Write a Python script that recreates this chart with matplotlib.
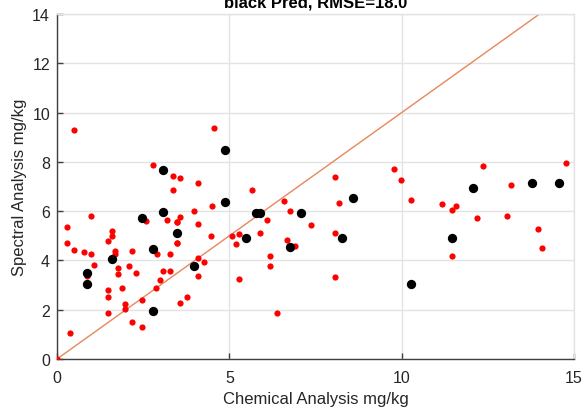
import matplotlib
matplotlib.use('Agg')
import matplotlib.pyplot as plt
import numpy as np

plt.rcParams['font.family'] = ['Liberation Sans', 'DejaVu Sans']

# Chemical (x) vs spectral (y) values
red_x = [0.00, 0.49, 2.78, 3.37, 3.58, 3.37, 2.59, 3.18, 3.58, 3.48, 0.99, 0.29,
         1.59, 1.59, 0.28, 0.49, 0.78, 0.99, 1.49, 1.68, 1.68, 1.08, 0.88, 1.78,
         1.78, 2.18, 2.89, 3.28, 3.48, 2.09, 2.28, 3.08, 3.28, 2.98, 2.88, 1.49,
         1.49, 1.89, 1.98, 1.98, 2.48, 1.49, 2.18, 2.48, 0.38, 3.58, 3.77, 4.56,
         4.49, 3.97, 4.08, 4.08, 4.48, 4.08, 4.27, 4.08, 3.48, 3.48, 5.67, 6.58,
         6.77, 6.08, 7.38, 5.08, 5.28, 5.88, 5.18, 6.68, 6.90, 6.18, 6.18, 5.28,
         6.37, 8.07, 8.17, 8.07, 8.07, 9.77, 9.97, 10.27, 11.16, 12.37, 13.17,
         14.77, 11.58, 11.47, 12.18, 13.07, 13.97, 14.07, 11.47]
red_y = [0.00, 9.31, 7.86, 7.43, 7.33, 6.85, 5.59, 5.64, 5.76, 5.55, 5.80, 5.37,
         5.18, 4.99, 4.71, 4.44, 4.33, 4.25, 4.78, 4.40, 4.26, 3.81, 3.36, 3.68,
         3.46, 4.38, 4.25, 4.25, 4.71, 3.77, 3.50, 3.58, 3.58, 3.22, 2.88, 2.80,
         2.53, 2.87, 2.23, 2.04, 2.41, 1.85, 1.49, 1.29, 1.06, 2.26, 2.53, 9.39,
         6.20, 5.99, 5.49, 7.16, 4.98, 4.09, 3.92, 3.38, 5.55, 4.70, 6.87, 6.40,
         6.02, 5.64, 5.44, 4.99, 5.09, 5.11, 4.65, 4.83, 4.60, 4.18, 3.79, 3.25,
         1.85, 7.37, 6.32, 5.13, 3.31, 7.72, 7.25, 6.44, 6.29, 7.85, 7.06,
         7.94, 6.22, 6.05, 5.74, 5.82, 5.28, 4.50, 4.17]

black_x = [3.07, 3.07, 2.48, 3.48, 1.59, 0.88, 0.88, 2.78, 2.78, 4.86, 4.86,
           3.97, 5.77, 5.89, 7.07, 5.48, 6.77, 8.58, 8.28, 10.27, 12.06, 13.77,
           14.56, 11.47]
black_y = [7.67, 5.98, 5.71, 5.10, 4.04, 3.49, 3.06, 4.46, 1.96, 8.49, 6.36,
           3.79, 5.94, 5.94, 5.94, 4.92, 4.56, 6.53, 4.92, 3.03, 6.94, 7.13,
           7.14, 4.92]

title = 'black Pred, RMSE=18.0'

fig = plt.figure(figsize=(5.83, 4.10), dpi=100)
ax = fig.add_axes([57 / 583, 50 / 410, 517 / 583, 345 / 410])

grid_col = '#e3e3e3'
ax.set_axisbelow(True)
ax.grid(True, color=grid_col, linewidth=1.0)

ax.plot([0, 15], [0, 15], color='#e8865c', linewidth=1.0, zorder=2)
ax.scatter(red_x, red_y, s=20, color='#ff0000', linewidths=0, zorder=3)
ax.scatter(black_x, black_y, s=45, color='#000000', linewidths=0, zorder=4)

ax.set_xlim(0, 15)
ax.set_ylim(0, 14)
ax.set_xticks([0, 5, 10, 15])
ax.set_yticks(np.arange(0, 15, 2))
ax.tick_params(direction='in', length=4, width=1, colors='#404040',
               labelcolor='#262626', labelsize=11.5)
ax.tick_params(axis='x', pad=8)
ax.tick_params(axis='y', pad=5)

for side in ['left', 'bottom']:
    ax.spines[side].set_color('#404040')
    ax.spines[side].set_linewidth(1.0)
for side in ['top', 'right']:
    ax.spines[side].set_color(grid_col)
    ax.spines[side].set_linewidth(1.0)

ax.set_xlabel('Chemical Analysis mg/kg', fontsize=12, color='#262626', labelpad=4)
ax.set_ylabel('Spectral Analysis mg/kg', fontsize=12, color='#262626', labelpad=4)

fig.text(0.5412, 1 - 7 / 410, title, ha='center', va='baseline',
         fontsize=12, fontweight='bold', color='#000000')

fig.savefig('out.png', dpi=100)
plt.close(fig)
